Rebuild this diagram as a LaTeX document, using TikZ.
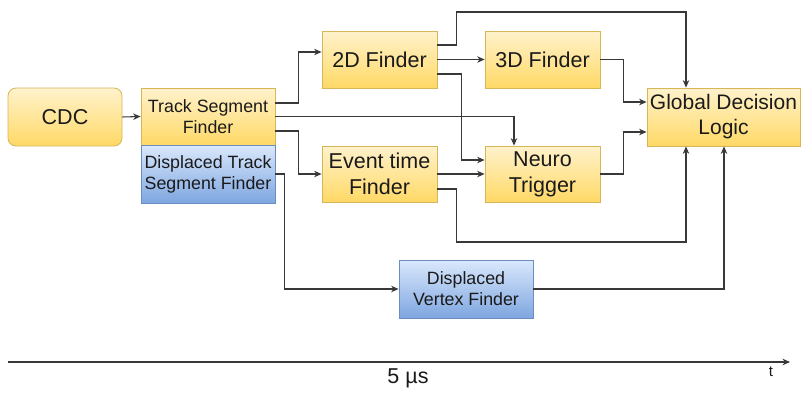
\documentclass[tikz,border=0pt]{standalone}
\usepackage{fontspec}
\setmainfont{Liberation Sans}
\usetikzlibrary{arrows.meta,calc}

\definecolor{ylTop}{HTML}{FFF2CC}
\definecolor{ylBot}{HTML}{FFD966}
\definecolor{ylLine}{HTML}{D6B656}
\definecolor{blTop}{HTML}{DAE8FC}
\definecolor{blBot}{HTML}{7EA6E0}
\definecolor{blLine}{HTML}{6C8EBF}
\definecolor{wire}{HTML}{383838}
\definecolor{ink}{HTML}{1A1A1A}

\tikzset{
  blk/.style={draw, line width=0.8pt, inner sep=0pt, align=center, text=ink,
    font=\fontsize{21.5}{26}\selectfont},
  yel/.style={blk, draw=ylLine, top color=ylTop, bottom color=ylBot},
  blu/.style={blk, draw=blLine, top color=blTop, bottom color=blBot},
  small/.style={font=\fontsize{17.8}{21}\selectfont},
  wirestyle/.style={draw=wire, line width=1.05pt},
  arr/.style={wirestyle, -{Stealth[length=7.5pt,width=6.5pt]}},
}

\begin{document}
\begin{tikzpicture}[x=1pt, y=-1pt]
  \useasboundingbox (0,0) rectangle (802,394);

  % processing blocks
  \node[yel, rounded corners=8pt, minimum width=114pt, minimum height=58pt] (cdc) at (65,117) {CDC};
  \node[yel, small, minimum width=134pt, minimum height=57pt] (tsf) at (208,116.5) {Track Segment\\Finder};
  \node[blu, small, minimum width=134pt, minimum height=58pt] (dtsf) at (208,174) {Displaced Track\\Segment Finder};
  \node[yel, minimum width=115pt, minimum height=57pt] (f2d) at (379.5,59.5) {2D Finder};
  \node[yel, minimum width=115pt, minimum height=57pt] (f3d) at (542.5,59.5) {3D Finder};
  \node[yel, minimum width=115pt, minimum height=56pt] (etf) at (379.5,174) {Event time\\Finder};
  \node[yel, minimum width=115pt, minimum height=56pt] (neuro) at (542.5,174) {Neuro\\Trigger};
  \node[yel, font=\fontsize{21}{25}\selectfont, minimum width=153pt, minimum height=58pt] (gdl) at (723.5,117) {Global Decision\\Logic};
  \node[blu, small, minimum width=134pt, minimum height=58pt] (dvf) at (466,289) {Displaced\\Vertex Finder};

  % data flow
  \draw[arr] (cdc.east) -- (tsf.west);
  \draw[arr] ([yshift=13.5pt]tsf.east) -- ++(23,0) |- ([yshift=7.5pt]f2d.west);
  \draw[arr] (tsf.east) -| ([xshift=-28.5pt]neuro.north);
  \draw[arr] ([yshift=-14.5pt]tsf.east) -- ++(23,0) |- (etf.west);

  \draw[arr] ([yshift=14.5pt]f2d.east) -- ++(19,0) -- ++(0,-33) -| ([xshift=-37.5pt]gdl.north);
  \draw[arr] (f2d.east) -- (f3d.west);
  \draw[arr] ([yshift=-14.5pt]f2d.east) -- ++(24,0) |- ([yshift=14pt]neuro.west);

  \draw[arr] (etf.east) -- (neuro.west);
  \draw[arr] ([yshift=-15pt]etf.east) -- ++(19,0) -- ++(0,53) -| ([xshift=-37.5pt]gdl.south);

  \draw[arr] (f3d.east) -- ++(23,0) |- ([yshift=15pt]gdl.west);
  \draw[arr] (neuro.east) -- ++(23,0) |- ([yshift=-15pt]gdl.west);

  \draw[arr] (dtsf.east) -- ++(9,0) |- (dvf.west);
  \draw[arr] (dvf.east) -| ([xshift=0.5pt]gdl.south);

  % time axis
  \coordinate (t0) at (8,362);
  \coordinate (t1) at (790,362);
  \draw[arr] (t0) -- (t1);
  \node[text=ink, font=\fontsize{21.5}{25}\selectfont] (dur) at (408,378) {5 µs};
  \node[text=ink, font=\fontsize{15}{18}\selectfont] (tlab) at (771,372) {t};
\end{tikzpicture}
\end{document}
